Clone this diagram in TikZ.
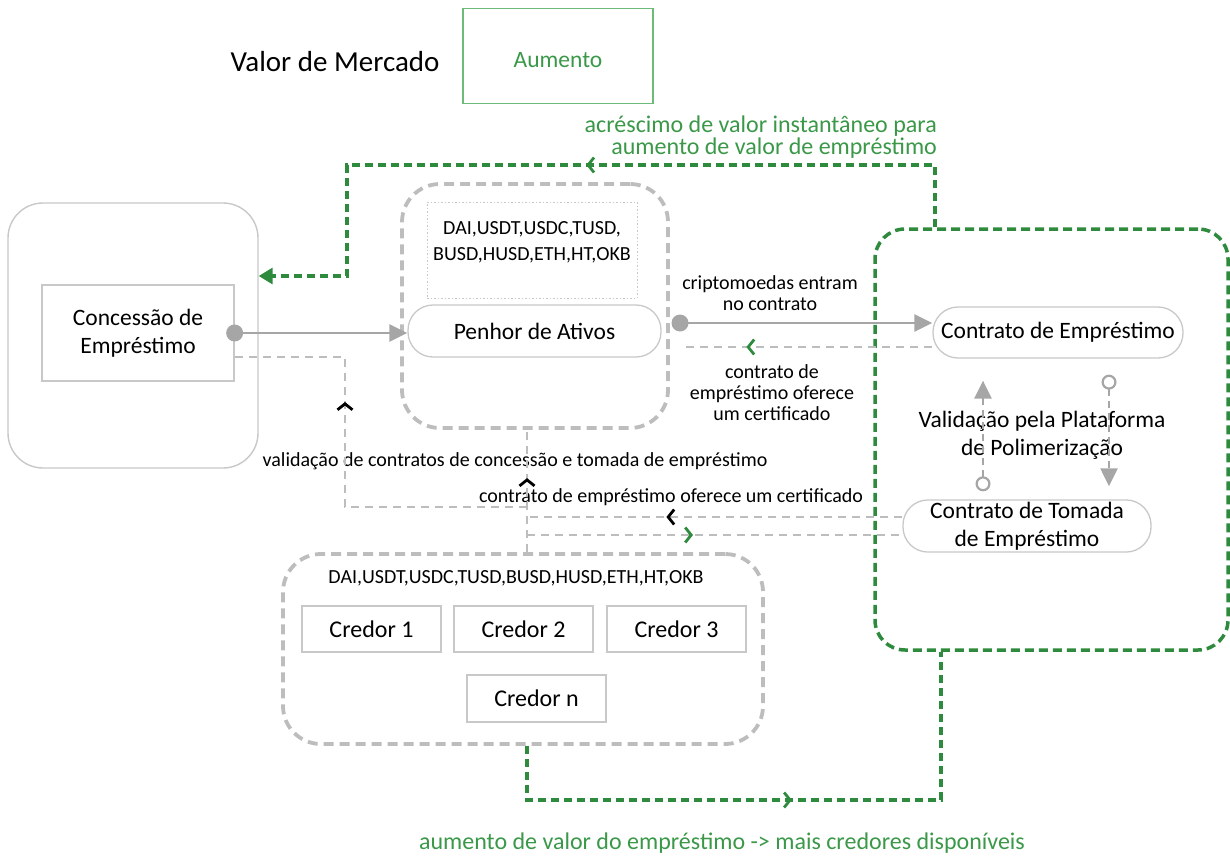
\documentclass[tikz,border=0pt]{standalone}
\usepackage{fontspec}
\setmainfont{Carlito}
\usetikzlibrary{arrows.meta,decorations.markings}
\definecolor{lgray}{HTML}{C8C8C8}
\definecolor{dgray}{HTML}{A6A6A6}
\definecolor{dashgray}{HTML}{BDBDBD}
\definecolor{dgreen}{HTML}{2E8B3E}
\definecolor{tgreen}{HTML}{3A9848}
\definecolor{lgreen}{HTML}{6DBB78}
\newcommand\szbig{\fontsize{29}{34}\selectfont}
\newcommand\szmain{\fontsize{23.5}{28}\selectfont}
\newcommand\szsmall{\fontsize{20}{21}\selectfont}
\newcommand\szgreen{\fontsize{24}{22}\selectfont}
\begin{document}
\begin{tikzpicture}[x=1pt,y=-1pt,
  plainbox/.style={draw=lgray,line width=1.3pt,inner sep=2pt,align=center,font=\szmain},
  pill/.style={plainbox,rounded corners=25pt},
  groupbox/.style={draw=dashgray,line width=3.8pt,dash pattern=on 10pt off 6pt,rounded corners=38pt},
  feed/.style={draw=dgray,line width=2.7pt,-{Triangle[length=18pt,width=17pt]}},
  back/.style={draw=dashgray,line width=2.8pt,dash pattern=on 8pt off 6pt},
  gback/.style={draw=dgreen,line width=3.3pt,dash pattern=on 8pt off 5pt},
  valarrow/.style={draw=dgray,line width=2.5pt,dash pattern=on 7pt off 5pt,
    {Circle[open,length=15pt,width=15pt,line width=2.2pt]}-{Triangle[length=18pt,width=17pt]}},
  chev/.style 2 args={postaction={decorate},decoration={markings,
    mark=at position #1 with {\arrow[#2,solid]{Straight Barb[length=6pt,width=15pt,line width=2.8pt]}}}},
  lbl/.style={align=center,font=\szsmall,inner sep=0pt}]
\useasboundingbox (0,0) rectangle (1230,856);

\node (market) [font=\szbig] at (335,62) {Valor de Mercado};
\node (aum) [draw=lgreen,line width=1.8pt,minimum width=190pt,minimum height=95pt] at (558,56) {};
\node (aumtxt) [text=tgreen,font=\szmain,inner sep=0pt] at (558,60) {Aumento};
\node (instlbl) [anchor=east,align=right,text=tgreen,font=\szgreen,inner sep=0pt] at (937,137)
  {acréscimo de valor instantâneo para\\aumento de valor de empréstimo};

\node (grant) [draw=lgray,line width=1.4pt,rounded corners=35pt,
  minimum width=250pt,minimum height=265pt] at (133,335.5) {};
\node (conc) [plainbox,minimum width=192pt,minimum height=96pt] at (138,333) {Concessão de\\Empréstimo};

\node (pgroup) [groupbox,minimum width=266pt,minimum height=244pt] at (535,306) {};
\node (coins1) [draw=lgray,line width=1pt,dash pattern=on 1.5pt off 2pt,
  minimum width=210pt,minimum height=96pt] at (532,250) {};
\node (coins1txt) [align=center,font=\fontsize{20}{26}\selectfont,inner sep=0pt] at (532,242)
  {DAI,USDT,USDC,TUSD,\\BUSD,HUSD,ETH,HT,OKB};
\node (penhor) [pill,minimum width=253pt,minimum height=52pt] at (534.5,331) {Penhor de Ativos};

\node (plat) [draw=dgreen,line width=3.5pt,dash pattern=on 9pt off 5pt,rounded corners=30pt,
  minimum width=353pt,minimum height=421pt] at (1051.5,439.5) {};
\node (ce) [pill,minimum width=250pt,minimum height=51pt] at (1058,332.5) {Contrato de Empréstimo};
\node (tom) [pill,minimum width=248pt,minimum height=52pt] at (1027,526) {Contrato de Tomada\\de Empréstimo};
\node (vallbl) [align=center,font=\szmain,inner sep=0pt] at (1042,435)
  {Validação pela Plataforma\\de Polimerização};

\node (cgroup) [groupbox,minimum width=480pt,minimum height=190pt] at (523,649) {};
\node (coins2txt) [font=\fontsize{20}{24}\selectfont,inner sep=0pt] at (516,578)
  {DAI,USDT,USDC,TUSD,BUSD,HUSD,ETH,HT,OKB};
\node (cred1) [plainbox,font=\fontsize{24}{28}\selectfont,minimum width=139pt,minimum height=46pt] at (371.5,629) {Credor 1};
\node (cred2) [plainbox,font=\fontsize{24}{28}\selectfont,minimum width=139pt,minimum height=46pt] at (523.5,629) {Credor 2};
\node (cred3) [plainbox,font=\fontsize{24}{28}\selectfont,minimum width=139pt,minimum height=46pt] at (676.5,629) {Credor 3};
\node (credn) [plainbox,font=\fontsize{24}{28}\selectfont,minimum width=139pt,minimum height=47pt] at (536.5,698.5) {Credor n};

\node (cryptolbl) [lbl] at (770,293) {criptomoedas entram\\no contrato};
\node (certlbl) [lbl] at (772,392.5) {contrato de\\empréstimo oferece\\um certificado};
\node (checklbl) [lbl] at (515,461) {validação de contratos de concessão e tomada de empréstimo};
\node (cert2lbl) [lbl] at (671,497) {contrato de empréstimo oferece um certificado};
\node (morelbl) [text=tgreen,font=\szgreen,inner sep=0pt] at (722,843)
  {aumento de valor do empréstimo -> mais credores disponíveis};

\coordinate (g1) at (935,165);
\coordinate (g2) at (347,276);
\draw[gback,-{Triangle[length=14pt,width=16pt]},chev={411pt}{dgreen}]
  (plat.north -| g1) -- (g1) -| (g2) -- (g2 -| grant.east);

\fill[dgray] (conc.east) circle (8.5pt);
\draw[feed] (conc.east) -- (conc.east -| penhor.west);

\coordinate (j1) at (527,507);
\coordinate (c1) at (345,357);
\draw[back,chev={287pt}{black}] (j1) -| (c1) -- (c1 -| conc.east);
\draw[back,chev={74pt}{black}] (cgroup.north -| j1) -- (pgroup.south -| j1);

\draw[back,chev={236pt}{black}] ([yshift=9pt]tom.west) -- ([yshift=9pt]tom.west -| j1);
\draw[back,chev={166pt}{dgreen}] ([yshift=-9pt]tom.west -| j1) -- ([yshift=-9pt]tom.west);

\coordinate (d2) at (680,323);
\coordinate (d3) at (685,347);
\fill[dgray] (d2) circle (8.5pt);
\draw[feed] (d2) -- (d2 -| ce.west);
\draw[back,chev={186pt}{dgreen}] (d3 -| ce.west) -- (d3);

\coordinate (v1) at (983,0);
\coordinate (v2) at (1109,0);
\draw[valarrow,shorten <=8pt,shorten >=22pt] (tom.north -| v1) -- (ce.south -| v1);
\draw[valarrow,shorten <=16pt,shorten >=13pt] (ce.south -| v2) -- (tom.north -| v2);

\coordinate (b1) at (941,800);
\draw[gback,chev={319pt}{dgreen}] (cgroup.south -| j1) |- (b1) -- (plat.south -| b1);
\end{tikzpicture}
\end{document}
